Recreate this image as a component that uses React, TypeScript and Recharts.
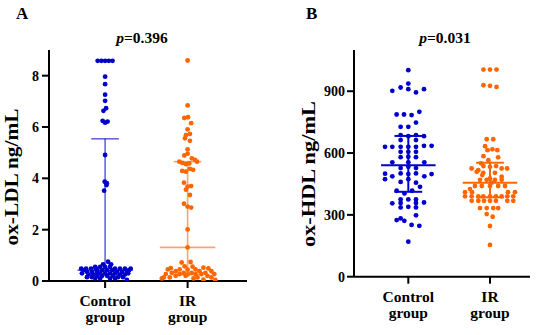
import React from 'react';
import { ScatterChart, Scatter, XAxis, YAxis, ReferenceLine } from 'recharts';

const groups = ['Control group', 'IR group'];
const ldlTicks = [0, 2, 4, 6, 8];
const hdlTicks = [0, 300, 600, 900];
const pValues = ['0.396', '0.031'];
const panelTitles = ['A', 'B'];
const yTitles = ['ox-LDL ng/mL', 'ox-HDL ng/mL'];

// [value, horizontal jitter in category units]
const ldlControl: [number, number][] = [
  [8.58, -0.09], [8.58, -0.045], [8.58, 0], [8.58, 0.045], [8.58, 0.09],
  [7.96, 0], [7.67, 0], [7.26, 0], [7.02, 0], [6.73, 0.012], [6.63, -0.02],
  [6.24, -0.03], [6.17, 0], [6.21, 0.03], [4.91, 0],
  [3.87, -0.005], [3.81, 0.02], [3.74, 0.017], [3.52, -0.012],
  [0.75, 0.036], [0.65, -0.024], [0.65, 0.072],
  [0.55, -0.12], [0.55, -0.06], [0.55, 0], [0.55, 0.06],
  [0.48, -0.29], [0.48, -0.23], [0.48, -0.17], [0.48, -0.11], [0.48, 0.12], [0.48, 0.18], [0.48, 0.24], [0.48, 0.31],
  [0.42, -0.26], [0.42, -0.096], [0.42, -0.036], [0.42, 0.024], [0.42, 0.084], [0.42, 0.29],
  [0.36, -0.22], [0.36, -0.16], [0.36, -0.1], [0.36, 0.144], [0.36, 0.204], [0.36, 0.264],
  [0.30, -0.28], [0.30, -0.06], [0.30, 0], [0.30, 0.06], [0.30, 0.12], [0.30, 0.28],
  [0.25, -0.2], [0.25, -0.14], [0.25, 0.18], [0.25, 0.24],
  [0.20, -0.096], [0.20, -0.036], [0.20, 0.024], [0.20, 0.096],
  [0.15, -0.22], [0.15, -0.16], [0.15, 0.156], [0.15, 0.216],
  [0.10, -0.12], [0.10, -0.06], [0.10, 0.06], [0.10, 0.12],
  [0.04, 0.264],
];

const ldlIR: [number, number][] = [
  [8.59, 0], [6.84, 0], [6.35, -0.04], [6.38, 0.005], [6.15, 0.043], [5.91, 0],
  [5.68, -0.02], [5.73, 0.028], [5.56, -0.032], [5.46, 0.028], [5.13, 0],
  [4.89, -0.04], [4.96, 0], [4.78, 0.052], [4.72, 0.09],
  [4.65, -0.1], [4.60, -0.065], [4.55, -0.02], [4.58, 0.02], [4.65, 0.115],
  [4.29, -0.065], [4.26, -0.02], [4.37, 0.028], [4.33, 0.067],
  [3.83, -0.044], [3.70, 0.043], [3.68, 0], [3.56, -0.02], [3.35, 0.028],
  [3.01, -0.044], [2.90, 0], [2.86, 0.043], [2.01, 0], [1.31, 0],
  [0.72, -0.072], [0.74, 0.036], [0.57, -0.036], [0.56, 0.06],
  [0.50, -0.204], [0.52, 0.192], [0.49, 0.252],
  [0.45, -0.24], [0.45, -0.096], [0.44, 0], [0.45, 0.096],
  [0.38, -0.144], [0.38, 0.144], [0.38, 0.288],
  [0.32, -0.192], [0.32, -0.048], [0.32, 0.048], [0.32, 0.216],
  [0.27, -0.264], [0.27, -0.096], [0.26, 0], [0.27, 0.096], [0.27, 0.168], [0.27, 0.324],
  [0.20, -0.144], [0.20, -0.024], [0.20, 0.24],
  [0.14, -0.288], [0.14, -0.216], [0.14, 0.12], [0.14, 0.288],
  [0.10, -0.312], [0.10, 0.072],
  [0.05, 0.192], [0.04, 0.336],
];

const hdlControl: [number, number][] = [
  [1002, 0], [937, 0],
  [902, -0.196], [918, -0.094], [910, 0], [894, 0.094], [910, 0.192],
  [800, 0.135], [787, -0.143], [787, -0.053], [784, 0.04], [748, 0.094],
  [727, -0.094], [727, 0],
  [687, -0.094], [682, 0], [687, 0.094], [682, 0.192],
  [663, -0.094], [663, 0.094],
  [630, -0.285], [630, -0.196], [630, -0.094], [630, 0], [630, 0.094], [635, 0.192], [635, 0.285],
  [606, -0.094], [606, 0], [606, 0.094],
  [580, -0.094], [582, 0], [580, 0.094],
  [555, -0.196], [555, 0], [555, 0.196],
  [527, -0.094], [533, 0], [527, 0.094],
  [500, -0.285], [501, -0.094], [498, 0], [501, 0.094], [498, 0.285],
  [487, -0.196], [487, 0.196], [473, -0.285],
  [460, -0.094], [473, 0], [456, 0.094],
  [417, -0.143], [404, -0.047], [417, 0.047], [436, 0.143],
  [375, -0.094], [375, 0], [375, 0.094],
  [356, -0.196], [358, -0.094], [358, 0.094], [360, 0.192],
  [336, -0.094], [339, 0], [336, 0.094],
  [298, 0.094], [283, -0.094], [275, -0.143], [271, -0.049],
  [251, 0.04], [247, 0.135], [170, 0],
];

const hdlIR: [number, number][] = [
  [1005, -0.08], [1005, 0], [1005, 0.08],
  [929, -0.08], [926, 0], [921, 0.08],
  [667, -0.04], [667, 0.04], [633, -0.06],
  [614, -0.03], [618, 0.03], [614, 0.09],
  [585, -0.08], [579, 0.1], [565, -0.02], [550, -0.11],
  [537, -0.08], [533, 0], [537, 0.075],
  [525, -0.225], [525, 0.143], [525, 0.21], [517, -0.143],
  [509, -0.163], [504, -0.082], [504, 0.061],
  [493, -0.094], [477, 0], [485, 0.143],
  [470, -0.122], [470, -0.04], [470, 0.061], [470, 0.143],
  [456, 0.02],
  [440, -0.184], [440, -0.1], [440, 0], [440, 0.1], [440, 0.184],
  [425, -0.245],
  [410, -0.306], [410, -0.22], [410, 0.22], [410, 0.306],
  [390, -0.306], [390, -0.224], [390, -0.143], [390, -0.082], [390, 0], [390, 0.073], [390, 0.143], [390, 0.212], [390, 0.285],
  [368, -0.224], [368, -0.143], [368, -0.073], [368, 0], [368, 0.073], [368, 0.212], [368, 0.285],
  [333, -0.122], [333, -0.04], [333, 0.04], [333, 0.1],
  [304, -0.04], [291, 0.033], [246, 0], [154, 0],
];

const ldlMedian = [0.42, 1.31];
const ldlQ1 = [0.27, 0.25];
const ldlQ3 = [5.54, 4.65];
const hdlMedian = [541, 456];
const hdlQ1 = [412, 385];
const hdlQ3 = [683, 553];

const BLUE = '#0000CC';
const ORANGE = '#FF6600';
const FONT = 'Liberation Serif, Times New Roman, serif';

const toPoints = (rows: [number, number][], g: number) => rows.map(([v, j]) => ({ x: g + j, y: v }));

const dot = (color: string) => (p: any) => <circle cx={p.cx} cy={p.cy} r={2.4} fill={color} />;

const XTick = (props: any) => {
  const { x, y, payload } = props;
  const words = groups[payload.value].split(' ');
  return (
    <text x={x} y={y} textAnchor="middle" style={{ fontFamily: FONT, fontWeight: 'bold', fontSize: 15.5 }} fill="#000">
      <tspan x={x} dy={16}>{words[0]}</tspan>
      <tspan x={x} dy={16}>{words[1]}</tspan>
    </text>
  );
};

const YTick = (props: any) => {
  const { x, y, payload } = props;
  return (
    <text x={x} y={y} dy={5} textAnchor="end" style={{ fontFamily: FONT, fontWeight: 'bold', fontSize: 14 }} fill="#000">
      {payload.value}
    </text>
  );
};

function statLines(medians: number[], q1: number[], q3: number[], colors: string[], width: number, opacity: number, medHalf: number, capHalf: number) {
  const out: any[] = [];
  medians.forEach((m, g) => {
    const c = colors[g];
    const common = { stroke: c, strokeWidth: width, strokeOpacity: opacity, ifOverflow: 'visible' as const };
    out.push(<ReferenceLine key={`v${g}`} segment={[{ x: g, y: q1[g] }, { x: g, y: q3[g] }]} {...common} />);
    out.push(<ReferenceLine key={`m${g}`} segment={[{ x: g - medHalf, y: m }, { x: g + medHalf, y: m }]} {...common} />);
    out.push(<ReferenceLine key={`a${g}`} segment={[{ x: g - capHalf, y: q3[g] }, { x: g + capHalf, y: q3[g] }]} {...common} />);
    out.push(<ReferenceLine key={`b${g}`} segment={[{ x: g - capHalf, y: q1[g] }, { x: g + capHalf, y: q1[g] }]} {...common} />);
  });
  return out;
}

export default function App() {
  const axisStyle = { stroke: '#000', strokeWidth: 2 };
  const txt = { fontFamily: FONT, fontWeight: 'bold' as const };
  return (
    <div style={{ position: 'absolute', left: 0, top: 0, width: 550, height: 335, background: '#fff', overflow: 'hidden' }}>
      <div style={{ position: 'absolute', left: 0, top: 0 }}>
        <ScatterChart width={275} height={335} margin={{ top: 50, right: 28, bottom: 0, left: 0 }}>
          <XAxis type="number" dataKey="x" domain={[-0.68, 1.72]} ticks={[0, 1]} allowDataOverflow
            height={54} axisLine={axisStyle} tickLine={axisStyle} tickSize={7} tick={<XTick />} interval={0} />
          <YAxis type="number" dataKey="y" domain={[0, 9]} ticks={ldlTicks} allowDataOverflow
            width={49} axisLine={axisStyle} tickLine={axisStyle} tickSize={7} tickMargin={3} tick={<YTick />} interval={0} />
          {statLines(ldlMedian, ldlQ1, ldlQ3, [BLUE, ORANGE], 1.6, 0.6, 0.336, 0.168)}
          <Scatter data={toPoints(ldlControl, 0)} fill={BLUE} shape={dot(BLUE)} isAnimationActive={false} />
          <Scatter data={toPoints(ldlIR, 1)} fill={ORANGE} shape={dot(ORANGE)} isAnimationActive={false} />
        </ScatterChart>
      </div>
      <div style={{ position: 'absolute', left: 275, top: 0 }}>
        <ScatterChart width={275} height={335} margin={{ top: 50, right: 20, bottom: 0, left: 0 }}>
          <XAxis type="number" dataKey="x" domain={[-0.665, 1.49]} ticks={[0, 1]} allowDataOverflow
            height={58.3} axisLine={axisStyle} tickLine={axisStyle} tickSize={7} tick={<XTick />} interval={0} />
          <YAxis type="number" dataKey="y" domain={[0, 1100]} ticks={hdlTicks} allowDataOverflow
            width={79} axisLine={axisStyle} tickLine={axisStyle} tickSize={7} tickMargin={2} tick={<YTick />} interval={0} />
          {statLines(hdlMedian, hdlQ1, hdlQ3, [BLUE, ORANGE], 2, 1, 0.334, 0.17)}
          <Scatter data={toPoints(hdlControl, 0)} fill={BLUE} shape={dot(BLUE)} isAnimationActive={false} />
          <Scatter data={toPoints(hdlIR, 1)} fill={ORANGE} shape={dot(ORANGE)} isAnimationActive={false} />
        </ScatterChart>
      </div>
      <svg width={550} height={335} style={{ position: 'absolute', left: 0, top: 0, pointerEvents: 'none' }}>
        <text x={16} y={18.5} style={{ ...txt, fontSize: 17 }} fill="#000">{panelTitles[0]}</text>
        <text x={306} y={18.5} style={{ ...txt, fontSize: 17 }} fill="#000">{panelTitles[1]}</text>
        <text x={142} y={43} textAnchor="middle" style={{ ...txt, fontSize: 15.5 }} fill="#000">
          <tspan style={{ fontStyle: 'italic' }}>p</tspan>={pValues[0]}
        </text>
        <text x={445} y={43} textAnchor="middle" style={{ ...txt, fontSize: 15.5 }} fill="#000">
          <tspan style={{ fontStyle: 'italic' }}>p</tspan>={pValues[1]}
        </text>
        <text transform="translate(18,177) rotate(-90)" textAnchor="middle" style={{ ...txt, fontSize: 18 }}
          fill="#000" textLength={137} lengthAdjust="spacingAndGlyphs">{yTitles[0]}</text>
        <text transform="translate(315,174) rotate(-90)" textAnchor="middle" style={{ ...txt, fontSize: 18 }}
          fill="#000" textLength={146} lengthAdjust="spacingAndGlyphs">{yTitles[1]}</text>
      </svg>
    </div>
  );
}
